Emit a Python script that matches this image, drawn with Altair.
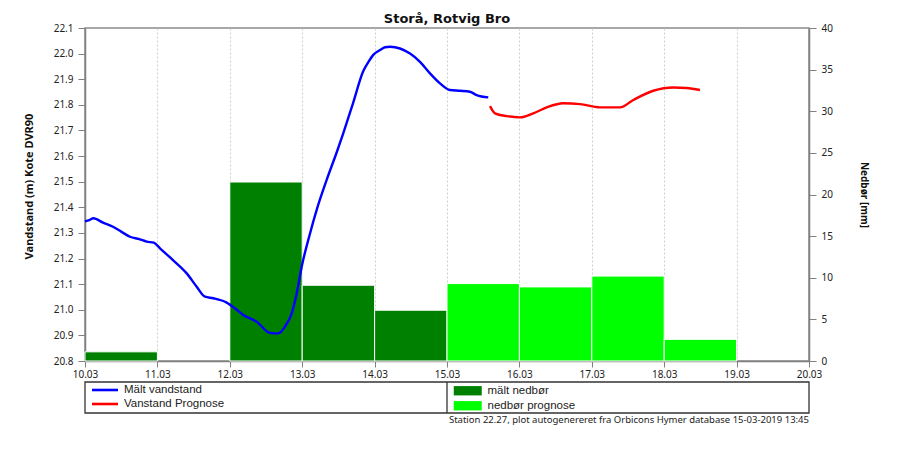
import altair as alt
import pandas as pd

title_text = "Storå, Rotvig Bro"
footer_text = "Station 22.27, plot autogenereret fra Orbicons Hymer database 15-03-2019 13:45"
left_title = "Vandstand (m) Kote DVR90"
right_title = "Nedbør [mm]"

x_ticks = [10, 11, 12, 13, 14, 15, 16, 17, 18, 19, 20]
left_ticks = [20.8, 20.9, 21.0, 21.1, 21.2, 21.3, 21.4, 21.5, 21.6, 21.7, 21.8, 21.9, 22.0, 22.1]
right_ticks = [0, 5, 10, 15, 20, 25, 30, 35, 40]

line_names = ["Mält vandstand", "Vanstand Prognose"]
line_colors = ["#0000ff", "#ff0000"]
bar_names = ["mält nedbør", "nedbør prognose"]
bar_colors = ["#008000", "#00ff00"]

blue_day = [10.0, 10.06, 10.115, 10.25, 10.387, 10.5, 10.622, 10.75, 10.852, 10.95, 11.036,
            11.215, 11.405, 11.543, 11.657, 11.772, 11.957, 12.095, 12.186, 12.372, 12.555,
            12.670, 12.762, 12.855, 12.924, 12.993, 13.108, 13.200, 13.338, 13.477, 13.568,
            13.706, 13.844, 13.91, 13.982, 14.075, 14.144, 14.213, 14.351, 14.489, 14.627,
            14.765, 14.903, 15.041, 15.180, 15.318, 15.410, 15.570]
blue_level = [21.345, 21.35, 21.357, 21.34, 21.324, 21.305, 21.285, 21.276, 21.266, 21.262, 21.24,
              21.194, 21.142, 21.09, 21.051, 21.045, 21.028, 21.0, 20.98, 20.953, 20.91,
              20.908, 20.934, 20.986, 21.064, 21.168, 21.298, 21.39, 21.507, 21.615, 21.69,
              21.81, 21.932, 21.965, 21.995, 22.014, 22.025, 22.027, 22.02, 22.0, 21.968,
              21.923, 21.884, 21.858, 21.855, 21.851, 21.838, 21.829]

red_day = [15.594, 15.663, 15.825, 16.008, 16.192, 16.377, 16.606, 16.837, 17.113, 17.390,
           17.573, 17.849, 18.126, 18.311, 18.494]
red_level = [21.795, 21.767, 21.756, 21.751, 21.767, 21.79, 21.806, 21.803, 21.79, 21.79,
             21.819, 21.855, 21.868, 21.866, 21.858]

bar_start = [10, 12, 13, 14, 15, 16, 17, 18]
bar_end = [11, 13, 14, 15, 16, 17, 18, 19]
bar_mm = [1.1, 21.5, 9.1, 6.1, 9.3, 8.9, 10.2, 2.6]
bar_kind = ["mält nedbør", "mält nedbør", "mält nedbør", "mält nedbør",
            "nedbør prognose", "nedbør prognose", "nedbør prognose", "nedbør prognose"]

lines_df = pd.concat([
    pd.DataFrame({"day": blue_day, "level": blue_level, "series": line_names[0]}),
    pd.DataFrame({"day": red_day, "level": red_level, "series": line_names[1]}),
])
bars_df = pd.DataFrame({"start": bar_start, "end": bar_end, "mm": bar_mm, "kind": bar_kind})
one = pd.DataFrame({"a": [0]})

W, H = 724, 333
FONT = "Noto Sans"
LFONT = "Liberation Sans"

x_axis = alt.Axis(values=x_ticks, labelExpr="datum.value + '.03'", title=None, grid=True,
                  labelFlush=False)
x_scale = alt.Scale(domain=[10, 20], nice=False)

bars = alt.Chart(bars_df).mark_bar(stroke="white", strokeWidth=1).encode(
    x=alt.X("start:Q", scale=x_scale, axis=x_axis),
    x2="end:Q",
    y=alt.Y("mm:Q", scale=alt.Scale(domain=[0, 40], nice=False),
            axis=alt.Axis(orient="right", values=right_ticks, grid=False, title=right_title,
                          titlePadding=26, labelPadding=5, tickSize=7, titleFontSize=10)),
    y2=alt.datum(0),
    color=alt.Color("kind:N", scale=alt.Scale(domain=bar_names, range=bar_colors),
                    legend=alt.Legend(orient="none", legendX=377, legendY=357, direction="vertical",
                                      title=None, symbolType="M-3,-1H3V1H-3Z", symbolSize=87,
                                      symbolStrokeWidth=0, rowPadding=2, padding=0, labelOffset=14,
                                      labelFont=LFONT, labelFontSize=11.5, labelColor="#222")),
)

frame = alt.Chart(one).mark_rect(fill=None, stroke="#333333", strokeWidth=1.3).encode(
    x=alt.value(0), x2=alt.value(W), y=alt.value(354), y2=alt.value(385))
divider = alt.Chart(one).mark_rule(stroke="#333333", strokeWidth=1.3).encode(
    x=alt.value(362), y=alt.value(354), y2=alt.value(385))
footer = alt.Chart(one).mark_text(align="right", baseline="middle", font=FONT, fontSize=9.5,
                                  color="#222").encode(
    x=alt.value(W), y=alt.value(392), text=alt.value(footer_text))

lines = alt.Chart(lines_df).mark_line(strokeWidth=2.4, interpolate="monotone").encode(
    x=alt.X("day:Q", scale=x_scale, axis=x_axis),
    y=alt.Y("level:Q", scale=alt.Scale(domain=[20.8, 22.1], nice=False, zero=False),
            axis=alt.Axis(orient="left", values=left_ticks, format=".1f", title=left_title,
                          titlePadding=19, labelPadding=5, tickSize=7, titleY=158)),
    color=alt.Color("series:N", scale=alt.Scale(domain=line_names, range=line_colors),
                    legend=alt.Legend(orient="none", legendX=14, legendY=356, direction="vertical",
                                      title=None, symbolType="M-3,0H3", symbolSize=75,
                                      symbolStrokeWidth=2.6, rowPadding=2, padding=0, labelOffset=13,
                                      labelFont=LFONT, labelFontSize=11.5, labelColor="#222")),
)

chart = alt.layer(bars, frame, divider, footer, lines).resolve_scale(
    y="independent", color="independent"
).properties(
    width=W, height=H,
    autosize=alt.AutoSizeParams(type="none"),
    padding={"left": 77, "top": 20, "right": 86, "bottom": 90},
    title=alt.TitleParams(title_text, font="DejaVu Sans", fontSize=13, fontWeight="bold",
                          color="#111", anchor="middle", offset=-3),
).configure_view(
    stroke="#8a8a8a", strokeWidth=1.5
).configure_axis(
    domainColor="#808080", domainWidth=1.5, tickColor="#808080", tickSize=6,
    labelFont=FONT, labelFontSize=10, labelColor="#222",
    titleFont=FONT, titleFontWeight="bold", titleFontSize=11, titleColor="#111",
    gridColor="#cfcfcf", gridDash=[2, 2], gridWidth=1,
)

chart.save("out.html", embed_options={"renderer": "svg", "actions": False})
